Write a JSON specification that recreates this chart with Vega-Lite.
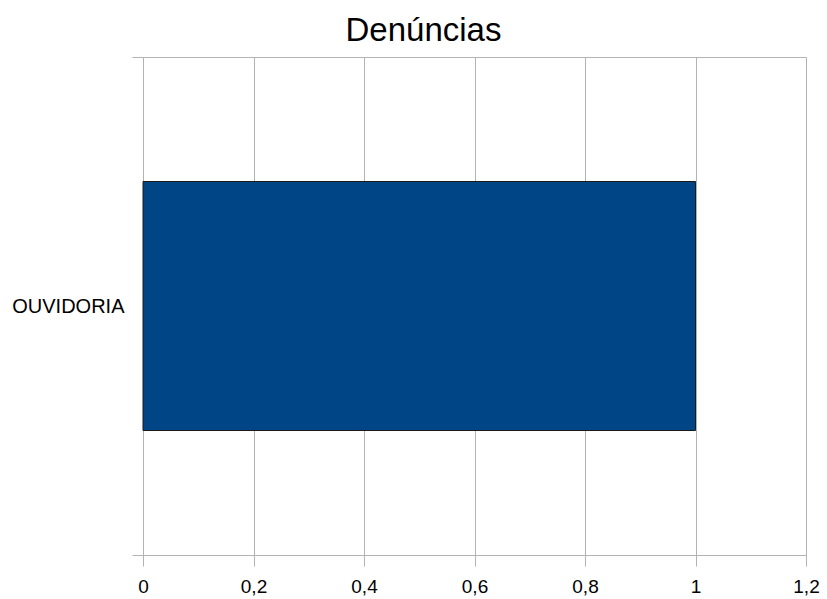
{
  "$schema": "https://vega.github.io/schema/vega-lite/v6.json",
  "autosize": {"type": "none"},
  "width": 663,
  "height": 498,
  "padding": {"left": 143, "top": 57, "right": 21, "bottom": 44},
  "background": "white",
  "title": {
    "text": "Denúncias",
    "font": "Liberation Sans",
    "fontSize": 33,
    "fontWeight": "normal",
    "color": "#000000",
    "anchor": "middle",
    "baseline": "bottom",
    "offset": -34,
    "dx": -51
  },
  "data": {"values": [{"categoria": "OUVIDORIA", "valor": 1}]},
  "mark": {"type": "bar", "color": "#004586", "stroke": "#1a1a1a", "strokeWidth": 1, "height": {"band": 0.5}},
  "encoding": {
    "y": {
      "field": "categoria",
      "type": "nominal",
      "title": null,
      "scale": {"paddingInner": 0, "paddingOuter": 0},
      "axis": {
        "tickBand": "extent",
        "grid": true,
        "gridColor": "#b3b3b3",
        "tickColor": "#b3b3b3",
        "tickSize": 11,
        "domain": false,
        "labelFont": "Liberation Sans",
        "labelFontSize": 20,
        "labelColor": "#000000",
        "labelPadding": 8
      }
    },
    "x": {
      "field": "valor",
      "type": "quantitative",
      "title": null,
      "scale": {"domain": [0, 1.2], "nice": false},
      "axis": {
        "values": [0, 0.2, 0.4, 0.6, 0.8, 1, 1.2],
        "labelExpr": "replace(format(datum.value, '.1~f'), '.', ',')",
        "grid": true,
        "gridColor": "#b3b3b3",
        "tickColor": "#b3b3b3",
        "tickSize": 11,
        "domain": false,
        "labelFont": "Liberation Sans",
        "labelFontSize": 19,
        "labelColor": "#000000",
        "labelPadding": 11,
        "labelFlush": false
      }
    }
  },
  "config": {"view": {"stroke": null}}
}
